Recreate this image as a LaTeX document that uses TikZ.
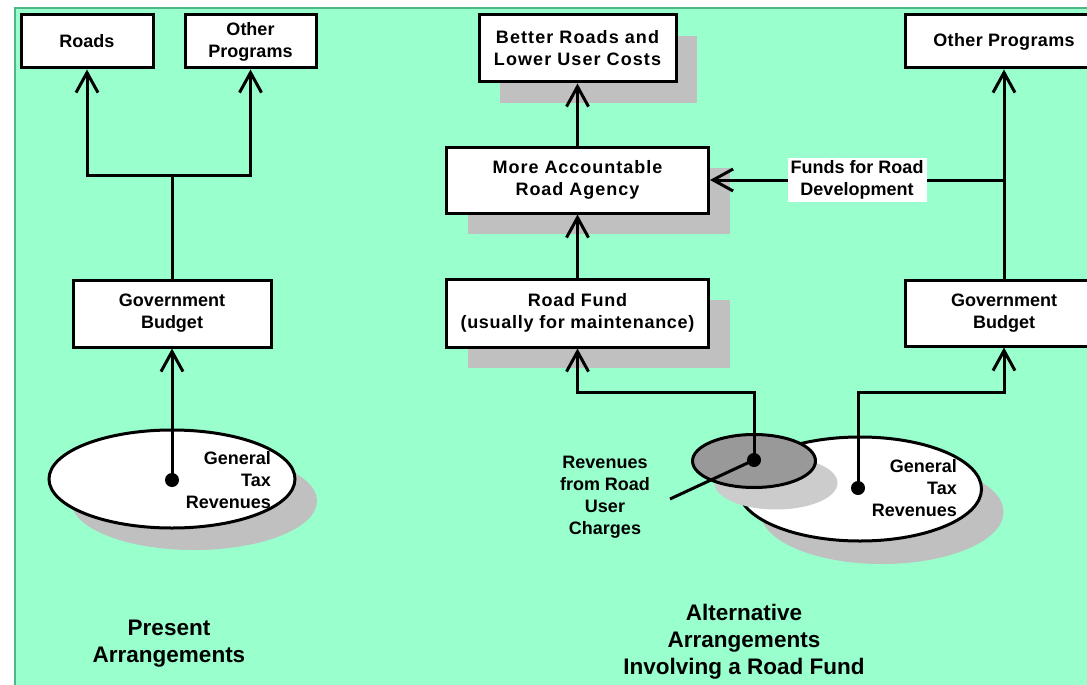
\documentclass[tikz,border=0pt]{standalone}
\usepackage{fontspec}
\setmainfont{Liberation Sans}
\usetikzlibrary{arrows.meta,shapes.geometric,shadows}
\definecolor{bg}{HTML}{99FFCC}
\definecolor{bord}{HTML}{4DB885}
\definecolor{shd}{HTML}{C0C0C0}
\definecolor{lshd}{HTML}{CCCCCC}
\definecolor{dgr}{HTML}{999999}
\newcommand\bxfont{\fontsize{18pt}{22pt}\selectfont\bfseries}
\newcommand\bigfont{\fontsize{22.5pt}{27pt}\selectfont\bfseries}
\begin{document}
\begin{tikzpicture}[x=1pt,y=-1pt,
  box/.style={draw=black, line width=3pt, fill=white, rectangle, inner sep=0pt, align=center, font=\bxfont},
  sbox/.style={box, general shadow={fill=shd, shadow xshift=21pt, shadow yshift=-21pt}},
  ell/.style={ellipse, draw=black, line width=3pt, fill=white, inner sep=0pt},
  dot/.style={circle, fill=black, minimum size=14pt, inner sep=0pt},
  lbl/.style={font=\bxfont, inner sep=0pt},
  biglbl/.style={font=\bigfont, align=center, inner sep=0pt},
  arr/.style={line width=3pt, -{Straight Barb[length=20pt,width=22pt]}},
  ln/.style={line width=3pt}]
\useasboundingbox (0,0) rectangle (1087,685);
\clip (0,0) rectangle (1087,685);
\fill[white] (0,0) rectangle (1087,685);
\fill[bg] (15,8) rectangle (1100,700);
\draw[bord, line width=2.5pt] (15,700) -- (15,8) -- (1100,8);

% ---------- Present arrangements ----------
\node[box, minimum width=132pt, minimum height=53pt] (roads) at (87,41.5) {Roads};
\node[box, minimum width=131pt, minimum height=53pt] (op1) at (250.5,41.5) {Other\\Programs};
\node[box, minimum width=198pt, minimum height=67pt] (gb1) at (172,313.5) {Government\\Budget};
\node[ell, minimum width=246pt, minimum height=98pt,
  general shadow={fill=shd, shadow xshift=22pt, shadow yshift=-22pt}] (e1) at (172,479) {};
\node[dot] (d1) at (172,480) {};
\node[lbl, anchor=east, align=right] (t1) at (271,480) {General\\Tax\\Revenues};
\coordinate (j1) at (172,175);
\draw[arr] (j1) -| (roads.south);
\draw[arr] (j1) -| (op1.south);
\draw[ln] (gb1.north) -- (j1);
\draw[arr] (d1.center) -- (gb1.south);
\node[biglbl] (p1) at (169,644) {Present\\Arrangements};

% ---------- Alternative arrangements ----------
\node[sbox, minimum width=197pt, minimum height=67pt] (br) at (577.5,48.5) {\addfontfeature{LetterSpace=6}Better Roads and\\\addfontfeature{LetterSpace=6}Lower User Costs};
\node[sbox, minimum width=262pt, minimum height=66pt] (ma) at (577.5,180) {\addfontfeature{LetterSpace=5.5}More Accountable\\\addfontfeature{LetterSpace=5.5}Road Agency};
\node[sbox, minimum width=262pt, minimum height=68pt] (rf) at (577.5,313) {\addfontfeature{LetterSpace=4}Road Fund\\\addfontfeature{LetterSpace=4}(usually for maintenance)};
\node[box, minimum width=198pt, minimum height=53pt] (op2) at (1004,41.5) {\addfontfeature{LetterSpace=2}Other Programs};
\node[box, minimum width=198pt, minimum height=66pt] (gb2) at (1004,313) {Government\\Budget};

\node[ell, minimum width=243pt, minimum height=104pt,
  general shadow={fill=shd, shadow xshift=22pt, shadow yshift=-23pt}] (e2) at (860,489) {};
\node[ell, fill=dgr, minimum width=123pt, minimum height=53pt,
  general shadow={fill=lshd, shadow xshift=22pt, shadow yshift=-22pt}] (e3) at (754,461) {};
\node[dot] (d2) at (754,460) {};
\node[dot] (d3) at (858,488) {};
\node[lbl, anchor=east, align=right] (t2) at (957,488) {General\\Tax\\Revenues};
\node[lbl, align=center] (t3) at (605,497) {Revenues\\from Road\\User\\Charges};
\coordinate (ptr) at (670,499);
\draw[ln] (d2.center) -- (ptr);

\coordinate (lvl) at (0,392);
\draw[arr] (d2.center) -- (d2.center |- lvl) -| (rf.south);
\draw[arr] (d3.center) -- (d3.center |- lvl) -| (gb2.south);
\draw[arr] (rf.north) -- (ma.south);
\draw[arr] (ma.north) -- (br.south);
\draw[arr] (gb2.north) -- (op2.south);
\coordinate (fj) at (1004,180);
\draw[arr] (fj) -- node[fill=white, font=\bxfont, align=center, inner xsep=3pt, inner ysep=3pt] (fl) {Funds for Road\\Development} (ma.east);

\node[biglbl] (p2) at (744,642) {Alternative\\Arrangements\\Involving a Road Fund};
\end{tikzpicture}
\end{document}
